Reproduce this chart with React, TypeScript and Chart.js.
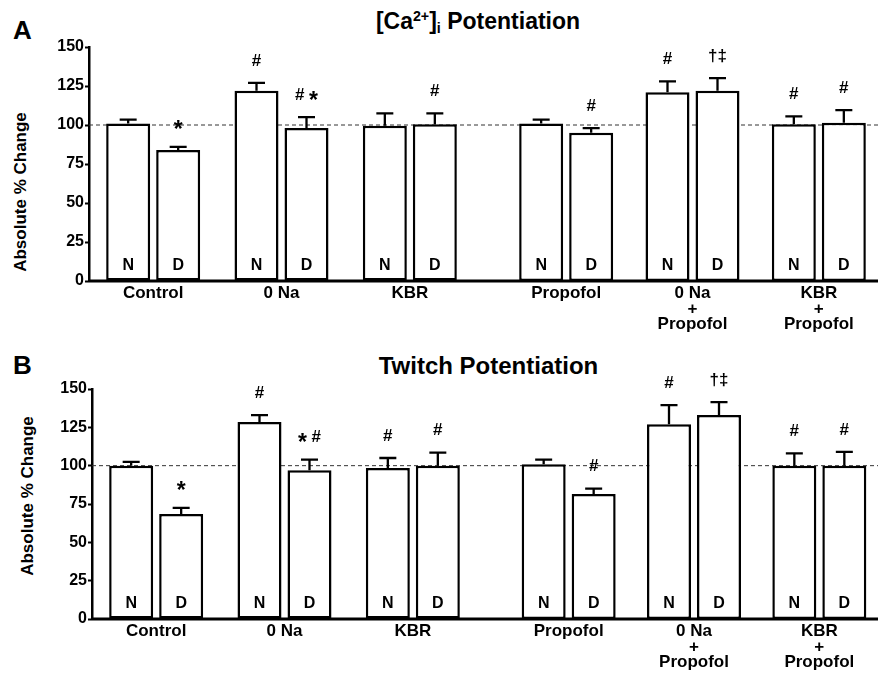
import React, { useEffect, useRef } from 'react';
import { Chart, registerables } from 'chart.js';

Chart.register(...registerables);

const FONT = '"Liberation Sans", Arial, Helvetica, sans-serif';

// ---------------- data ----------------
const categories: (string | string[])[] = [
  'Control',
  '0 Na',
  'KBR',
  'Propofol',
  ['0 Na', '+', 'Propofol'],
  ['KBR', '+', 'Propofol'],
];
const seriesLabels = ['N', 'D'];
const yMin = 0;
const yMax = 150;
const yStep = 25;
const referenceValue = 100;

// Panel A: [Ca2+]i potentiation
const caN = [101, 122, 99.5, 101, 121, 100.5];
const caNErr = [2.5, 5, 8, 2.5, 7, 5];
const caD = [84, 98, 100.5, 95, 122, 101.5];
const caDErr = [2, 7, 7, 3, 8, 8];
const caNMarks = ['', '#', '', '', '#', '#'];
const caDMarks = ['*', '# *', '#', '#', '†‡', '#'];

// Panel B: twitch potentiation
const twN = [100, 128.5, 98.5, 101, 127, 100];
const twNErr = [2.5, 4.5, 6.5, 3, 12.5, 8];
const twD = [68.5, 97, 100, 81.5, 133, 100];
const twDErr = [4, 7, 8.5, 3.5, 8.5, 9];
const twNMarks = ['', '#', '#', '', '#', '#'];
const twDMarks = ['*', '* #', '#', '#', '†‡', '#'];

// ---------------- chart part ----------------
type PartProps = {
  labels: (string | string[])[];
  n: number[];
  nErr: number[];
  d: number[];
  dErr: number[];
  nMarks: string[];
  dMarks: string[];
  showY: boolean;
  left: number;
  top: number;
  width: number;
  height: number;
  areaTop: number;
  areaBottom: number;
  areaLeft: number;
  areaRight: number;
};

function drawMark(ctx: CanvasRenderingContext2D, text: string, cx: number, cy: number) {
  const normal = `bold 17px ${FONT}`;
  const star = `bold 23px ${FONT}`;
  const parts = Array.from(text);
  const widths = parts.map((ch) => {
    ctx.font = ch === '*' ? star : normal;
    return ctx.measureText(ch).width;
  });
  const total = widths.reduce((a, b) => a + b, 0);
  let x = cx - total / 2;
  ctx.textAlign = 'left';
  ctx.textBaseline = 'middle';
  parts.forEach((ch, k) => {
    ctx.font = ch === '*' ? star : normal;
    ctx.fillText(ch, x, ch === '*' ? cy + 6 : cy);
    x += widths[k];
  });
}

function BarPart(p: PartProps) {
  const ref = useRef<HTMLCanvasElement>(null);
  useEffect(() => {
    const canvas = ref.current!;
    const errs = [p.nErr, p.dErr];
    const marks = [p.nMarks, p.dMarks];
    const slot = (p.areaRight - p.areaLeft) / p.labels.length;
    const pitch = 50;
    const barW = 44;
    const catPct = (pitch * 2) / slot;
    const barPct = barW / pitch;

    const overlay = {
      id: 'overlay',
      beforeDatasetsDraw(chart: any) {
        const { ctx, chartArea, scales } = chart;
        const y = scales.y;
        const yr = y.getPixelForValue(referenceValue);
        ctx.save();
        ctx.strokeStyle = '#333';
        ctx.lineWidth = 1;
        ctx.setLineDash([4, 3]);
        ctx.beginPath();
        ctx.moveTo(chartArea.left, yr);
        ctx.lineTo(chart.width - (p.showY ? 0 : 4), yr);
        ctx.stroke();
        ctx.restore();
      },
      afterDatasetsDraw(chart: any) {
        const { ctx, chartArea, scales } = chart;
        const y = scales.y;
        const y0 = y.getPixelForValue(0);
        ctx.save();
        ctx.strokeStyle = '#000';
        ctx.lineWidth = 3;
        ctx.beginPath();
        ctx.moveTo(chartArea.left - (p.showY ? 1 : 0), y0);
        ctx.lineTo(chart.width - (p.showY ? 0 : 4), y0);
        ctx.stroke();
        chart.data.datasets.forEach((ds: any, di: number) => {
          const meta = chart.getDatasetMeta(di);
          meta.data.forEach((bar: any, i: number) => {
            const v = ds.data[i] as number;
            const base = y.getPixelForValue(v);
            const top = y.getPixelForValue(v + errs[di][i]);
            ctx.lineWidth = 2.3;
            ctx.beginPath();
            ctx.moveTo(bar.x, base);
            ctx.lineTo(bar.x, top);
            ctx.moveTo(bar.x - 8.5, top);
            ctx.lineTo(bar.x + 8.5, top);
            ctx.stroke();
            ctx.fillStyle = '#000';
            ctx.textAlign = 'center';
            ctx.textBaseline = 'middle';
            ctx.font = `bold 16px ${FONT}`;
            ctx.fillText(ds.label, bar.x, y0 - 15);
            if (marks[di][i]) drawMark(ctx, marks[di][i], bar.x, top - 22);
          });
        });
        ctx.restore();
      },
    };

    const dsBase = {
      backgroundColor: '#fff',
      borderColor: '#000',
      borderWidth: 2.5,
      borderSkipped: false,
      categoryPercentage: catPct,
      barPercentage: barPct,
    };

    const chart = new Chart(canvas, {
      type: 'bar',
      data: {
        labels: p.labels as any,
        datasets: [
          { ...dsBase, label: seriesLabels[0], data: p.n },
          { ...dsBase, label: seriesLabels[1], data: p.d },
        ] as any,
      },
      options: {
        responsive: false,
        animation: false,
        devicePixelRatio: 1,
        layout: {
          padding: { left: 0, right: p.width - p.areaRight, top: p.areaTop, bottom: 0 },
        },
        plugins: {
          legend: { display: false },
          tooltip: { enabled: false },
          title: { display: false },
        },
        scales: {
          x: {
            type: 'category',
            offset: true,
            grid: { display: false, drawTicks: false },
            border: { display: false },
            ticks: {
              color: '#000',
              font: { family: FONT, size: 17, weight: 'bold', lineHeight: 0.9 },
              padding: 5,
              maxRotation: 0,
              autoSkip: false,
            },
            afterFit: (s: any) => {
              s.height = p.height - p.areaBottom;
            },
          },
          y: {
            display: p.showY,
            min: yMin,
            max: yMax,
            ticks: {
              stepSize: yStep,
              color: '#000',
              font: { family: FONT, size: 16, weight: 'bold' },
              padding: 1,
            },
            grid: {
              drawOnChartArea: false,
              drawTicks: true,
              tickLength: 4,
              tickColor: '#000',
              tickWidth: 2,
            },
            border: { display: true, color: '#000', width: 2.5 },
            afterFit: (s: any) => {
              s.width = p.areaLeft;
            },
          },
        },
      } as any,
      plugins: [overlay],
    });
    return () => chart.destroy();
  }, []);

  return (
    <canvas
      ref={ref}
      width={p.width}
      height={p.height}
      style={{ position: 'absolute', left: p.left, top: p.top, width: p.width, height: p.height }}
    />
  );
}

type PanelProps = {
  letter: string;
  title: React.ReactNode;
  titleX: number;
  titleTop: number;
  titleSize: number;
  yTitleX: number;
  yTitleY: number;
  top: number;
  height: number;
  areaTop: number;
  areaBottom: number;
  axisX: number;
  leftAreaRight: number;
  split: number;
  n: number[];
  nErr: number[];
  d: number[];
  dErr: number[];
  nMarks: string[];
  dMarks: string[];
};

function Panel(p: PanelProps) {
  const W = 882;
  const half = 3;
  return (
    <>
      <div
        style={{
          position: 'absolute',
          left: 13,
          top: p.top + 16.5,
          font: `bold 26px ${FONT}`,
          lineHeight: 1,
          color: '#000',
        }}
      >
        {p.letter}
      </div>
      <div
        style={{
          position: 'absolute',
          left: p.titleX,
          top: p.titleTop,
          transform: 'translateX(-50%)',
          whiteSpace: 'nowrap',
          font: `bold ${p.titleSize}px ${FONT}`,
          lineHeight: 1,
          color: '#000',
        }}
      >
        {p.title}
      </div>
      <div
        style={{
          position: 'absolute',
          left: p.yTitleX,
          top: p.yTitleY,
          transform: 'translate(-50%, -50%) rotate(-90deg)',
          whiteSpace: 'nowrap',
          font: `bold 17px ${FONT}`,
          lineHeight: 1,
          color: '#000',
        }}
      >
        Absolute % Change
      </div>
      <BarPart
        labels={categories.slice(0, half)}
        n={p.n.slice(0, half)}
        nErr={p.nErr.slice(0, half)}
        d={p.d.slice(0, half)}
        dErr={p.dErr.slice(0, half)}
        nMarks={p.nMarks.slice(0, half)}
        dMarks={p.dMarks.slice(0, half)}
        showY={true}
        left={0}
        top={p.top}
        width={p.split}
        height={p.height}
        areaTop={p.areaTop - p.top}
        areaBottom={p.areaBottom - p.top}
        areaLeft={p.axisX}
        areaRight={p.leftAreaRight}
      />
      <BarPart
        labels={categories.slice(half)}
        n={p.n.slice(half)}
        nErr={p.nErr.slice(half)}
        d={p.d.slice(half)}
        dErr={p.dErr.slice(half)}
        nMarks={p.nMarks.slice(half)}
        dMarks={p.dMarks.slice(half)}
        showY={false}
        left={p.split}
        top={p.top}
        width={W - p.split}
        height={p.height}
        areaTop={p.areaTop - p.top}
        areaBottom={p.areaBottom - p.top}
        areaLeft={0}
        areaRight={W - p.split}
      />
    </>
  );
}

export default function App() {
  return (
    <div
      style={{
        position: 'absolute',
        left: 0,
        top: 0,
        width: 882,
        height: 674,
        background: '#fff',
        overflow: 'hidden',
      }}
    >
      <Panel
        letter="A"
        title={
          <span>
            [Ca<sup style={{ fontSize: '0.62em', verticalAlign: '0.55em', lineHeight: 0 }}>2+</sup>]
            <sub style={{ fontSize: '0.62em', verticalAlign: '-0.25em', lineHeight: 0 }}>i</sub> Potentiation
          </span>
        }
        titleX={478}
        titleTop={9.5}
        titleSize={23}
        yTitleX={19.5}
        yTitleY={192}
        top={0}
        height={335}
        areaTop={47}
        areaBottom={281}
        axisX={89}
        leftAreaRight={474}
        split={503}
        n={caN}
        nErr={caNErr}
        d={caD}
        dErr={caDErr}
        nMarks={caNMarks}
        dMarks={caDMarks}
      />
      <Panel
        letter="B"
        title="Twitch Potentiation"
        titleX={488.5}
        titleTop={353.5}
        titleSize={24}
        yTitleX={27}
        yTitleY={496}
        top={335}
        height={339}
        areaTop={389}
        areaBottom={619}
        axisX={92}
        leftAreaRight={477}
        split={506}
        n={twN}
        nErr={twNErr}
        d={twD}
        dErr={twDErr}
        nMarks={twNMarks}
        dMarks={twDMarks}
      />
    </div>
  );
}
